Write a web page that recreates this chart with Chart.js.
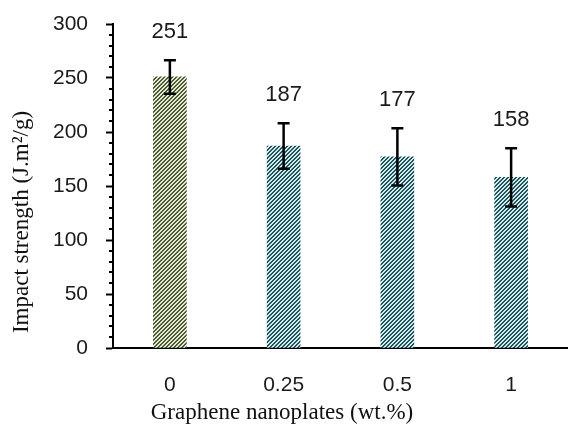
<!DOCTYPE html>
<html>
<head>
<meta charset="utf-8">
<script src="https://cdn.jsdelivr.net/npm/chart.js@4"></script>
<style>
  html, body { margin: 0; padding: 0; background: #fff; }
  #wrap { width: 568px; height: 426px; }
</style>
</head>
<body>
<div id="wrap"><canvas id="impactChart"></canvas></div>
<script>
// data
const categories = ['0', '0.25', '0.5', '1'];
const impactStrength = [251, 187, 177, 158];
const errorValues = [15.5, 21, 26.5, 27];
const yTickStep = 50;
const yMinorStep = 10;
const yMax = 300;

const yTitle = 'Impact strength (J.m\u00B2/g)';
const xTitle = 'Graphene nanoplates (wt.%)';

function stripes(dark, light) {
  const c = document.createElement('canvas');
  c.width = 4; c.height = 4;
  const g = c.getContext('2d');
  for (let x = 0; x < 4; x++) {
    for (let y = 0; y < 4; y++) {
      g.fillStyle = ((x + y) % 4 < 2) ? dark : light;
      g.fillRect(x, y, 1, 1);
    }
  }
  return g.createPattern(c, 'repeat');
}

const oliveFill = stripes('#4c5b33', '#e4ebd2');
const tealFill = stripes('#25525a', '#cdeeee');

// error bars, value labels, minor ticks and axis titles
const extras = {
  id: 'extras',
  afterDatasetsDraw(chart) {
    const ctx = chart.ctx;
    const y = chart.scales.y;
    const meta = chart.getDatasetMeta(0);
    ctx.save();
    ctx.strokeStyle = '#000';
    ctx.lineWidth = 2.5;
    meta.data.forEach((bar, i) => {
      const v = impactStrength[i];
      const e = errorValues[i];
      const top = y.getPixelForValue(v + e);
      const bot = y.getPixelForValue(v - e);
      ctx.beginPath();
      ctx.moveTo(bar.x, top); ctx.lineTo(bar.x, bot);
      ctx.moveTo(bar.x - 6, top); ctx.lineTo(bar.x + 6, top);
      ctx.moveTo(bar.x - 6, bot); ctx.lineTo(bar.x + 6, bot);
      ctx.stroke();

      ctx.fillStyle = '#1a1a1a';
      ctx.font = '22px "Liberation Sans", Arial, sans-serif';
      ctx.textAlign = 'center';
      ctx.textBaseline = 'middle';
      ctx.fillText(String(v), bar.x, top - 28);
    });
    ctx.restore();
  },
  afterDraw(chart) {
    const ctx = chart.ctx;
    const y = chart.scales.y;
    const area = chart.chartArea;
    ctx.save();
    ctx.strokeStyle = '#000';
    ctx.lineWidth = 2;
    ctx.beginPath();
    for (let v = 0; v <= yMax; v += yMinorStep) {
      if (v % yTickStep === 0) continue;
      const py = Math.round(y.getPixelForValue(v));
      ctx.moveTo(area.left - 4, py);
      ctx.lineTo(area.left, py);
    }
    ctx.stroke();

    ctx.fillStyle = '#111';
    ctx.font = '23px "Liberation Serif", "Times New Roman", serif';
    ctx.textAlign = 'center';
    ctx.textBaseline = 'middle';
    ctx.fillText(xTitle, 282, 413);
    ctx.translate(22, 222);
    ctx.rotate(-Math.PI / 2);
    ctx.fillText(yTitle, 0, 0);
    ctx.restore();
  }
};

const ctx = document.getElementById('impactChart').getContext('2d');
const impactChart = new Chart(ctx, {
  type: 'bar',
  data: {
    labels: categories,
    datasets: [{
      label: 'Impact strength',
      data: impactStrength,
      backgroundColor: [oliveFill, tealFill, tealFill, tealFill],
      borderWidth: 0,
      barThickness: 33
    }]
  },
  options: {
    responsive: true,
    maintainAspectRatio: false,
    animation: false,
    layout: { padding: { top: 24, right: 0, left: 0, bottom: 0 } },
    plugins: {
      legend: { display: false },
      tooltip: { enabled: false }
    },
    scales: {
      x: {
        grid: { display: true, drawOnChartArea: false, drawTicks: false },
        border: { display: true, color: '#000', width: 2 },
        ticks: {
          padding: 25,
          color: '#1a1a1a',
          font: { family: '"Liberation Sans", Arial, sans-serif', size: 21 }
        },
        afterFit(scale) { scale.height = 78; scale.paddingLeft = 0; scale.paddingRight = 0; }
      },
      y: {
        min: 0,
        max: yMax,
        grid: { display: true, drawOnChartArea: false, tickLength: 7, tickColor: '#000', tickWidth: 2 },
        border: { display: true, color: '#000', width: 2 },
        ticks: {
          stepSize: yTickStep,
          padding: 18,
          color: '#1a1a1a',
          font: { family: '"Liberation Sans", Arial, sans-serif', size: 21 }
        },
        afterFit(scale) { scale.width = 113; scale.paddingTop = 0; scale.paddingBottom = 0; }
      }
    }
  },
  plugins: [extras]
});
</script>
</body>
</html>
